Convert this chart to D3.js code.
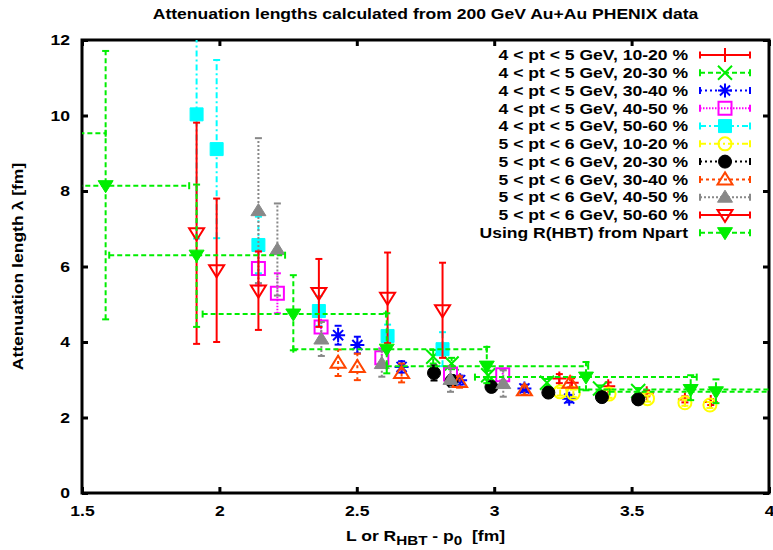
<!DOCTYPE html>
<html><head><meta charset="utf-8">
<script src="https://cdn.jsdelivr.net/npm/d3@7"></script>
<style>
body{margin:0;background:#fff}
text{font-family:"Liberation Sans",Arial,Helvetica,sans-serif;font-weight:bold;fill:#000}
</style>
</head><body>
<svg id="chart" width="773" height="550"></svg>
<script>
// ---------- data ----------
const titleText = "Attenuation lengths calculated from 200 GeV Au+Au PHENIX data";
const xTickValues = [1.5, 2, 2.5, 3, 3.5, 4];
const xTickLabels = ["1.5", "2", "2.5", "3", "3.5", "4"];
const yTickValues = [0, 2, 4, 6, 8, 10, 12];
const yTickLabels = ["0", "2", "4", "6", "8", "10", "12"];

const seriesNames = [
  "4 < pt < 5 GeV, 10-20 %",
  "4 < pt < 5 GeV, 20-30 %",
  "4 < pt < 5 GeV, 30-40 %",
  "4 < pt < 5 GeV, 40-50 %",
  "4 < pt < 5 GeV, 50-60 %",
  "5 < pt < 6 GeV, 10-20 %",
  "5 < pt < 6 GeV, 20-30 %",
  "5 < pt < 6 GeV, 30-40 %",
  "5 < pt < 6 GeV, 40-50 %",
  "5 < pt < 6 GeV, 50-60 %",
  "Using R(HBT) from Npart"
];

// 4<pt<5 GeV
const s1X = [3.237, 3.282, 3.415, 3.555, 3.694, 3.788];
const s1Y = [3.03, 2.92, 2.83, 2.64, 2.48, 2.41];
const s1E = [0.12, 0.12, 0.10, 0.08, 0.08, 0.08];

const s2X = [2.778, 2.845, 2.978, 3.192, 3.385, 3.524];
const s2Y = [3.61, 3.43, 3.12, 2.92, 2.77, 2.70];
const s2E = [0.18, 0.15, 0.12, 0.10, 0.08, 0.08];

const s3X = [2.432, 2.502, 2.663, 2.876, 3.110, 3.273];
const s3Y = [4.18, 3.92, 3.34, 2.99, 2.77, 2.50];
const s3E = [0.25, 0.22, 0.15, 0.12, 0.10, 0.10];

const s4X = [2.142, 2.211, 2.370, 2.591, 2.841, 3.031];
const s4Y = [5.95, 5.29, 4.40, 3.58, 3.15, 3.13];
const s4E = [0.45, 0.53, 0.30, 0.25, 0.20, 0.15];

const s5X = [1.917, 1.990, 2.142, 2.362, 2.612, 2.812];
const s5Y = [10.03, 9.11, 6.57, 4.82, 4.16, 3.81];
const s5E = [3.29, 2.36, 0.75, 0.40, 0.30, 0.45];

// 5<pt<6 GeV
const s6X = [3.240, 3.288, 3.418, 3.558, 3.694, 3.785];
const s6Y = [2.68, 2.64, 2.62, 2.50, 2.39, 2.33];
const s6E = [0.10, 0.10, 0.10, 0.08, 0.08, 0.08];

const s7X = [2.781, 2.845, 2.990, 3.197, 3.392, 3.524];
const s7Y = [3.18, 2.97, 2.81, 2.66, 2.54, 2.48];
const s7E = [0.20, 0.15, 0.12, 0.10, 0.08, 0.08];

const s8X = [2.432, 2.502, 2.663, 2.874, 3.110, 3.276];
const s8Y = [3.45, 3.34, 3.18, 2.94, 2.72, 2.92];
const s8E = [0.35, 0.35, 0.25, 0.15, 0.12, 0.12];

const s9X = [2.142, 2.211, 2.371, 2.591, 2.841, 3.033];
const s9Y = [7.48, 6.45, 4.08, 3.43, 3.01, 2.90];
const s9E = [1.92, 1.22, 0.45, 0.35, 0.33, 0.35];

const s10X = [1.917, 1.990, 2.142, 2.362, 2.612, 2.812];
const s10Y = [6.88, 5.90, 5.36, 5.30, 5.17, 4.84];
const s10E = [2.93, 1.90, 1.04, 0.90, 1.20, 1.26];

// Using R(HBT) from Npart (x, y, x-range, y-range)
const hbtX    = [1.200, 1.586, 1.917, 2.269, 2.609, 2.973, 3.334, 3.715, 3.807];
const hbtY    = [9.53, 8.14, 6.30, 4.74, 3.81, 3.36, 3.07, 2.74, 2.68];
const hbtXLow = [0.850, 1.250, 1.599, 1.939, 2.269, 2.609, 2.930, 3.310, 3.420];
const hbtXHigh= [1.586, 1.890, 2.239, 2.606, 2.973, 3.342, 3.737, 4.100, 4.200];
const hbtYLow = [7.50, 4.60, 4.40, 3.78, 3.17, 2.91, 2.72, 2.46, 2.38];
const hbtYHigh= [11.50, 11.71, 8.17, 5.77, 4.76, 3.87, 3.47, 3.12, 3.01];

const seriesColors = ["#ff0000","#00ee00","#0000ff","#ff00ff","#00ffff","#ffff00","#000000","#ff4500","#888888","#ff0000","#00ee00"];
const seriesDash = ["none","5,3","2,3","1.5,1.5","6,3,2,3","6,3,2,3","2,3","3,3","2,2","none","5,3"];
const seriesMarkers = ["plus","cross","star","squareOpen","squareFilled","circleOpen","circleFilled","triUpOpen","triUpFilled","triDownOpen","triDownFilled"];

// ---------- layout ----------
const svg = d3.select("#chart");
const W = 773, H = 550;
const plot = {left: 82, right: 769, top: 40, bottom: 493};
const SX = 1.17;      // horizontal font stretch
const FS = 15;        // font size

const x = d3.scaleLinear().domain([1.5, 4]).range([plot.left, plot.right]);
const y = d3.scaleLinear().domain([0, 12]).range([plot.bottom, plot.top]);

svg.append("rect").attr("width", W).attr("height", H).attr("fill", "#fff");

svg.append("defs").append("clipPath").attr("id", "clip")
  .append("rect").attr("x", plot.left).attr("y", plot.top)
  .attr("width", plot.right - plot.left).attr("height", plot.bottom - plot.top);

function stretchedText(parent, tx, ty, txt, anchor, rot) {
  const g = parent.append("g").attr("transform", `translate(${tx},${ty})` + (rot ? ` rotate(${rot})` : ""));
  return g.append("text").attr("transform", `scale(${SX},1)`)
    .attr("text-anchor", anchor).attr("font-size", FS).text(txt);
}

// title
stretchedText(svg, (plot.left + plot.right) / 2, 19, titleText, "middle");

// axes (inward ticks on all 4 sides)
const tickLen = 6;
const bottomAxis = d3.axisBottom(x).tickValues(xTickValues)
  .tickFormat((d, i) => xTickLabels[i]).tickSizeInner(-tickLen).tickSizeOuter(0).tickPadding(12);
const leftAxis = d3.axisLeft(y).tickValues(yTickValues)
  .tickFormat((d, i) => yTickLabels[i]).tickSizeInner(-tickLen).tickSizeOuter(0).tickPadding(12);
const topAxis = d3.axisTop(x).tickValues(xTickValues).tickFormat("").tickSizeInner(-tickLen).tickSizeOuter(0);
const rightAxis = d3.axisRight(y).tickValues(yTickValues).tickFormat("").tickSizeInner(-tickLen).tickSizeOuter(0);

function styleAxis(g) {
  g.select(".domain").remove();
  g.selectAll(".tick line").attr("stroke", "#000").attr("stroke-width", 3);
  g.selectAll(".tick text").attr("font-size", FS).attr("font-family", null).attr("fill", "#000");
}
const gB = svg.append("g").attr("transform", `translate(0,${plot.bottom})`).call(bottomAxis).call(styleAxis);
gB.selectAll(".tick text").attr("transform", `scale(${SX},1)`);
const gL = svg.append("g").attr("transform", `translate(${plot.left},0)`).call(leftAxis).call(styleAxis);
gL.selectAll(".tick text").attr("x", -12 / SX).attr("transform", `scale(${SX},1)`);
svg.append("g").attr("transform", `translate(0,${plot.top})`).call(topAxis).call(styleAxis);
svg.append("g").attr("transform", `translate(${plot.right},0)`).call(rightAxis).call(styleAxis);

// frame
svg.append("rect").attr("x", plot.left).attr("y", plot.top)
  .attr("width", plot.right - plot.left).attr("height", plot.bottom - plot.top)
  .attr("fill", "none").attr("stroke", "#000").attr("stroke-width", 3);

// axis labels
stretchedText(svg, 23, (plot.top + plot.bottom) / 2, "Attenuation length λ [fm]", "middle", -90);
{
  const g = svg.append("g").attr("transform", `translate(${(plot.left + plot.right) / 2},541)`);
  const t = g.append("text").attr("transform", `scale(${SX},1)`).attr("text-anchor", "middle").attr("font-size", FS);
  t.append("tspan").text("L or R");
  t.append("tspan").attr("font-size", 13).attr("dy", 4).text("HBT");
  t.append("tspan").attr("dy", -4).text(" - p");
  t.append("tspan").attr("font-size", 13).attr("dy", 4).text("0");
  t.append("tspan").attr("dy", -4).text("\u00a0\u00a0[fm]");
}

// markers
const MS = 7;
function markerPath(type, s) {
  const circ = r => `M${-r},0a${r},${r} 0 1,0 ${2 * r},0a${r},${r} 0 1,0 ${-2 * r},0Z`;
  switch (type) {
    case "plus": return `M${-s},0H${s}M0,${-s}V${s}`;
    case "cross": return `M${-s},${-s}L${s},${s}M${-s},${s}L${s},${-s}`;
    case "star": { const d = s * 0.72; return `M${-s},0H${s}M0,${-s}V${s}M${-d},${-d}L${d},${d}M${-d},${d}L${d},${-d}`; }
    case "squareOpen": case "squareFilled": { const h = s - 0.5; return `M${-h},${-h}H${h}V${h}H${-h}Z`; }
    case "circleOpen": case "circleFilled": return circ(s - 0.5);
    case "triUpOpen": case "triUpFilled": return `M0,${-s}L${s + 0.5},${s * 0.72}L${-s - 0.5},${s * 0.72}Z`;
    case "triDownOpen": case "triDownFilled": return `M0,${s}L${s + 0.5},${-s * 0.72}L${-s - 0.5},${-s * 0.72}Z`;
  }
}
function drawMarker(g, type, color, cx, cy) {
  const filled = /Filled/.test(type);
  g.append("path").attr("d", markerPath(type, MS))
    .attr("transform", `translate(${cx},${cy})`)
    .attr("fill", filled ? color : "none")
    .attr("stroke", color)
    .attr("stroke-width", filled ? 1 : 2);
}

const dataG = svg.append("g").attr("clip-path", "url(#clip)");
const CAP = 3.5;

const yerrSeries = [
  [s1X, s1Y, s1E], [s2X, s2Y, s2E], [s3X, s3Y, s3E], [s4X, s4Y, s4E], [s5X, s5Y, s5E],
  [s6X, s6Y, s6E], [s7X, s7Y, s7E], [s8X, s8Y, s8E], [s9X, s9Y, s9E], [s10X, s10Y, s10E]
];

yerrSeries.forEach(([xs, ys, es], si) => {
  const col = seriesColors[si], dash = seriesDash[si];
  const g = dataG.append("g");
  xs.forEach((xv, i) => {
    const px = x(xv), y1 = y(ys[i] - es[i]), y2 = y(ys[i] + es[i]);
    g.append("line").attr("x1", px).attr("x2", px).attr("y1", y1).attr("y2", y2)
      .attr("stroke", col).attr("stroke-width", 2).attr("stroke-dasharray", dash);
    [y1, y2].forEach(yy => g.append("line").attr("x1", px - CAP).attr("x2", px + CAP)
      .attr("y1", yy).attr("y2", yy).attr("stroke", col).attr("stroke-width", 2));
  });
  xs.forEach((xv, i) => drawMarker(g, seriesMarkers[si], col, x(xv), y(ys[i])));
});

// HBT series with x and y ranges
{
  const si = 10, col = seriesColors[si], dash = seriesDash[si];
  const g = dataG.append("g");
  hbtX.forEach((xv, i) => {
    const px = x(xv), py = y(hbtY[i]);
    const xl = x(hbtXLow[i]), xh = x(hbtXHigh[i]);
    const yl = y(hbtYLow[i]), yh = y(hbtYHigh[i]);
    g.append("line").attr("x1", xl).attr("x2", xh).attr("y1", py).attr("y2", py)
      .attr("stroke", col).attr("stroke-width", 2).attr("stroke-dasharray", dash);
    g.append("line").attr("x1", px).attr("x2", px).attr("y1", yl).attr("y2", yh)
      .attr("stroke", col).attr("stroke-width", 2).attr("stroke-dasharray", dash);
    [xl, xh].forEach(xx => g.append("line").attr("x1", xx).attr("x2", xx)
      .attr("y1", py - CAP).attr("y2", py + CAP).attr("stroke", col).attr("stroke-width", 2));
    [yl, yh].forEach(yy => g.append("line").attr("x1", px - CAP).attr("x2", px + CAP)
      .attr("y1", yy).attr("y2", yy).attr("stroke", col).attr("stroke-width", 2));
  });
  hbtX.forEach((xv, i) => drawMarker(g, seriesMarkers[si], col, x(xv), y(hbtY[i])));
}

// legend
const legTop = 55, legStep = 17.77, legTextRight = 688, legX1 = 700, legX2 = 750;
seriesNames.forEach((name, i) => {
  const cy = legTop + i * legStep;
  const col = seriesColors[i];
  stretchedText(svg, legTextRight, cy + 5.3, name, "end");
  svg.append("line").attr("x1", legX1).attr("x2", legX2).attr("y1", cy).attr("y2", cy)
    .attr("stroke", col).attr("stroke-width", 2).attr("stroke-dasharray", seriesDash[i]);
  [legX1, legX2].forEach(xx => svg.append("line").attr("x1", xx).attr("x2", xx)
    .attr("y1", cy - CAP).attr("y2", cy + CAP).attr("stroke", col).attr("stroke-width", 2));
  drawMarker(svg, seriesMarkers[i], col, (legX1 + legX2) / 2, cy);
});
</script>
</body></html>
